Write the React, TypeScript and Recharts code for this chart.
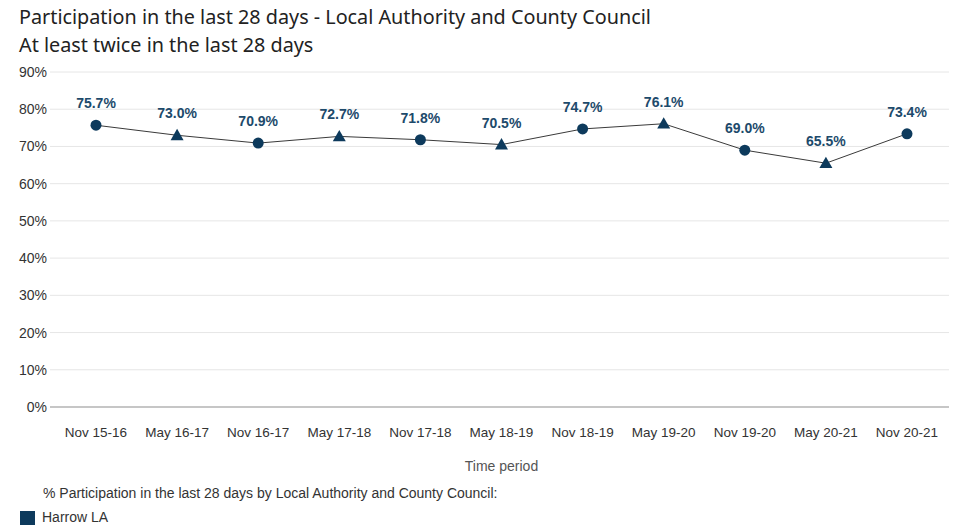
import React from "react";
import { LineChart, Line, XAxis, YAxis, CartesianGrid, LabelList } from "recharts";

const periods = ["Nov 15-16", "May 16-17", "Nov 16-17", "May 17-18", "Nov 17-18", "May 18-19", "Nov 18-19", "May 19-20", "Nov 19-20", "May 20-21", "Nov 20-21"];
const harrowLA = [75.7, 73.0, 70.9, 72.7, 71.8, 70.5, 74.7, 76.1, 69.0, 65.5, 73.4];
const yTicks = [0, 10, 20, 30, 40, 50, 60, 70, 80, 90];

const data = periods.map((p, i) => ({ period: p, value: harrowLA[i] }));

const NAVY = "#0d3a5c";
const FONT = "Liberation Sans, Arial, sans-serif";

const Dot = (props: any) => {
  const { cx, cy, index } = props;
  if (cx == null || cy == null) return null;
  if (index % 2 === 0) {
    return <circle key={index} cx={cx} cy={cy} r={5.5} fill={NAVY} />;
  }
  const s = 6.5;
  return (
    <polygon
      key={index}
      points={`${cx},${cy - s} ${cx - s},${cy + s * 0.75} ${cx + s},${cy + s * 0.75}`}
      fill={NAVY}
    />
  );
};

const ValueLabel = (props: any) => {
  const { x, y, value } = props;
  return (
    <text
      x={x}
      y={y - 22}
      textAnchor="middle"
      dominantBaseline="central"
      fontFamily={FONT}
      fontSize={14}
      fontWeight="bold"
      fill="#1d4a6b"
    >
      {Number(value).toFixed(1)}%
    </text>
  );
};

export default function App() {
  return (
    <div style={{ position: "absolute", left: 0, top: 0, width: 953, height: 527, background: "#fff", fontFamily: FONT }}>
      <div style={{ position: "absolute", left: 19, top: 3, fontFamily: "Noto Sans, sans-serif", fontSize: 19.8, color: "#222", whiteSpace: "nowrap" }}>
        Participation in the last 28 days - Local Authority and County Council
      </div>
      <div style={{ position: "absolute", left: 19, top: 31, fontFamily: "Noto Sans, sans-serif", fontSize: 19.8, color: "#222", whiteSpace: "nowrap" }}>
        At least twice in the last 28 days
      </div>
      <div style={{ position: "absolute", left: 0, top: 0 }}>
        <LineChart width={953} height={480} data={data} margin={{ top: 72, right: 4, left: 0, bottom: 43 }}>
          <CartesianGrid horizontal vertical={false} stroke="#e6e6e6" />
          <XAxis
            dataKey="period"
            padding={{ left: 46, right: 42 }}
            axisLine={{ stroke: "#999" }}
            tickLine={false}
            tick={{ fontSize: 13.5, fill: "#333", fontFamily: FONT }}
            tickMargin={14}
            interval={0}
          />
          <YAxis
            domain={[0, 90]}
            ticks={yTicks}
            width={50}
            axisLine={false}
            tickLine={false}
            tickSize={2}
            tickMargin={1}
            tickFormatter={(v: number) => `${v}%`}
            tick={{ fontSize: 14, fill: "#333", fontFamily: FONT }}
          />
          <Line
            dataKey="value"
            stroke="#3a3a3a"
            strokeWidth={1}
            dot={<Dot />}
            activeDot={false}
            isAnimationActive={false}
          >
            <LabelList dataKey="value" content={<ValueLabel />} />
          </Line>
        </LineChart>
      </div>
      <div style={{ position: "absolute", left: 0, width: 1003, top: 458, textAlign: "center", fontSize: 14, color: "#555" }}>
        Time period
      </div>
      <div style={{ position: "absolute", left: 43, top: 485, fontSize: 14, color: "#333", whiteSpace: "nowrap" }}>
        % Participation in the last 28 days by Local Authority and County Council:
      </div>
      <div style={{ position: "absolute", left: 20, top: 511, width: 15, height: 14, background: NAVY }} />
      <div style={{ position: "absolute", left: 42, top: 509, fontSize: 14, color: "#333", whiteSpace: "nowrap" }}>
        Harrow LA
      </div>
    </div>
  );
}
